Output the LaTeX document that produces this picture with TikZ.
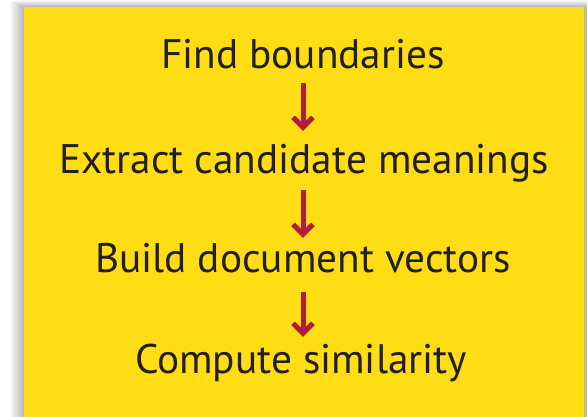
\documentclass[tikz,border=0pt]{standalone}
\usepackage{fontspec}
\setmainfont{PT Sans}
\usepackage{xcolor}
\usetikzlibrary{arrows.meta}
\definecolor{boxyellow}{RGB}{255,221,21}
\definecolor{arrowred}{RGB}{180,26,58}
\definecolor{inkdark}{RGB}{35,31,32}
\definecolor{edgegray}{RGB}{196,186,140}

\begin{document}
\begin{tikzpicture}[x=1pt, y=-1pt,
  steptext/.style={anchor=base, inner sep=0pt, text=inkdark,
    font=\fontsize{41.3}{44}\selectfont, text height=27pt, text depth=8pt},
  flow/.style={draw=arrowred, line width=5pt,
    -{Straight Barb[length=10pt, width=20pt]}}]

% ---------------- 1. CANVAS AND SHADOW ----------------
\useasboundingbox (0,0) rectangle (587,416);
\fill[white] (0,0) rectangle (587,416);
\foreach \i in {1,...,14}
  \fill[black, opacity=0.018] (24-\i, 7-0.5*\i) rectangle (587,430);
\fill[edgegray] (583,9) rectangle (587,430);

% ---------------- 2. YELLOW PANEL ----------------
\fill[boxyellow] (24,7) rectangle (584,430);

% ---------------- 3. STEPS ----------------
\node[steptext] (find)    at (303,68)  {Find boundaries};
\node[steptext] (extract) at (304,173) {Extract candidate meanings};
\node[steptext] (build)   at (303,272) {Build document vectors};
\node[steptext] (compute) at (301,373) {Compute similarity};

% ---------------- 4. ARROWS ----------------
\draw[flow, shorten <=7pt, shorten >=15pt] (find.south -| 303,0) -- (extract.north -| 303,0);
\draw[flow, shorten <=9pt, shorten >=7pt] (extract.south -| 303,0) -- (build.north -| 303,0);
\draw[flow, shorten <=12pt, shorten >=9pt] (build.south -| 303,0) -- (compute.north -| 303,0);

\end{tikzpicture}
\end{document}
